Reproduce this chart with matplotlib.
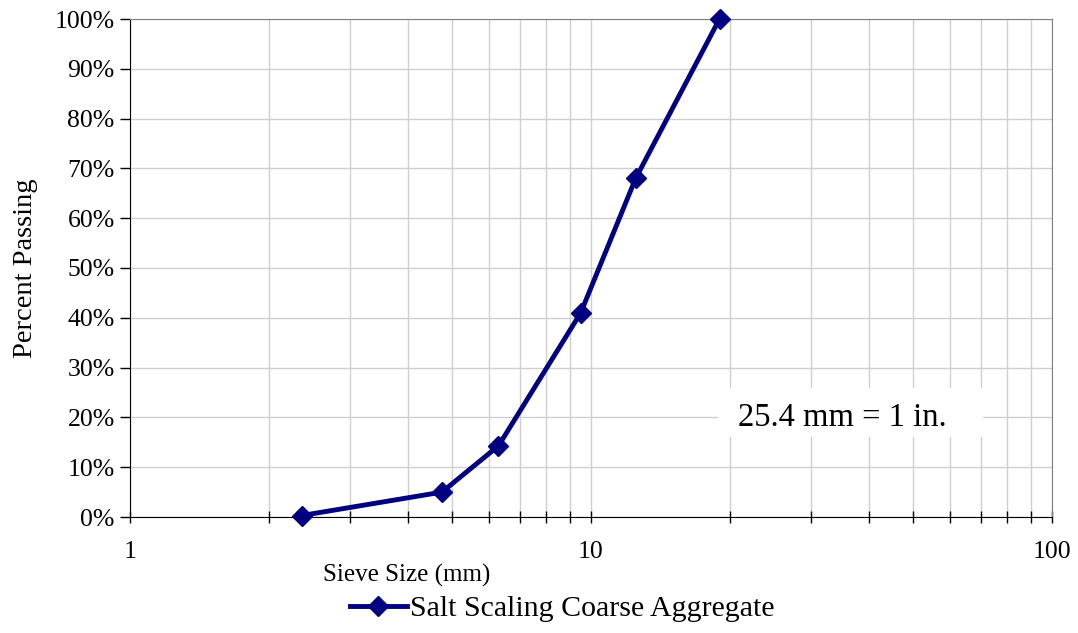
import matplotlib.pyplot as plt
from matplotlib.patches import Rectangle
from matplotlib.ticker import FixedLocator, LogLocator, NullFormatter, PercentFormatter

plt.rcParams['font.family'] = ['Liberation Serif', 'DejaVu Serif']

# sieve openings (mm) and cumulative percent passing
sieve_mm = [2.36, 4.75, 6.3, 9.5, 12.5, 19.0]
passing = [0.3, 5.0, 14.3, 41.0, 68.0, 100.0]
series_name = "Salt Scaling Coarse Aggregate"

navy = "#000080"

fig = plt.figure(figsize=(10.78, 6.33), dpi=100)
ax = fig.add_axes([130 / 1078, 1 - 517 / 633, 922 / 1078, 498 / 633])

ax.set_xscale("log")
ax.set_xlim(1, 100)
ax.set_ylim(0, 100)

ax.plot(sieve_mm, passing, color=navy, lw=3.5, marker="D", ms=10.5,
        clip_on=False, zorder=5, label=series_name)

# grid on every decade and sub-decade line
ax.xaxis.set_major_locator(FixedLocator([1, 10, 100]))
ax.xaxis.set_minor_locator(LogLocator(base=10, subs=range(2, 10)))
ax.xaxis.set_minor_formatter(NullFormatter())
ax.set_xticklabels(["1", "10", "100"])
ax.yaxis.set_major_locator(FixedLocator(range(0, 101, 10)))
ax.yaxis.set_major_formatter(PercentFormatter(decimals=0))
ax.grid(True, which="both", color="#cfcfcf", lw=1)
ax.set_axisbelow(True)

for side in ("top", "right"):
    ax.spines[side].set_color("#808080")
for side in ("left", "bottom"):
    ax.spines[side].set_color("black")

ax.tick_params(axis="x", which="both", direction="inout", length=9, width=1,
               labelsize=18.5, pad=13)
ax.tick_params(axis="y", direction="out", length=7, width=1, labelsize=18.5, pad=4)

ax.set_ylabel("Percent Passing", fontsize=20.5, labelpad=12)
ax.text((323 - 130) / 922, -58 / 498, "Sieve Size (mm)", transform=ax.transAxes,
        ha="left", va="center", fontsize=18)

# unit note on a white patch that hides the grid behind it
ax.add_patch(Rectangle((588 / 922, 80 / 498), 265 / 922, 49 / 498,
                       transform=ax.transAxes, facecolor="white",
                       edgecolor="none", zorder=1))
ax.text(608 / 922, 0.2, "25.4 mm = 1 in.", transform=ax.transAxes,
        fontsize=23.5, ha="left", va="center", zorder=2)

fig.legend(loc="center", bbox_to_anchor=(562 / 1078, 1 - 609 / 633),
           frameon=False, fontsize=21.5, handlelength=1.9, handletextpad=0.1,
           borderaxespad=0)

fig.savefig("out.png", dpi=100)
